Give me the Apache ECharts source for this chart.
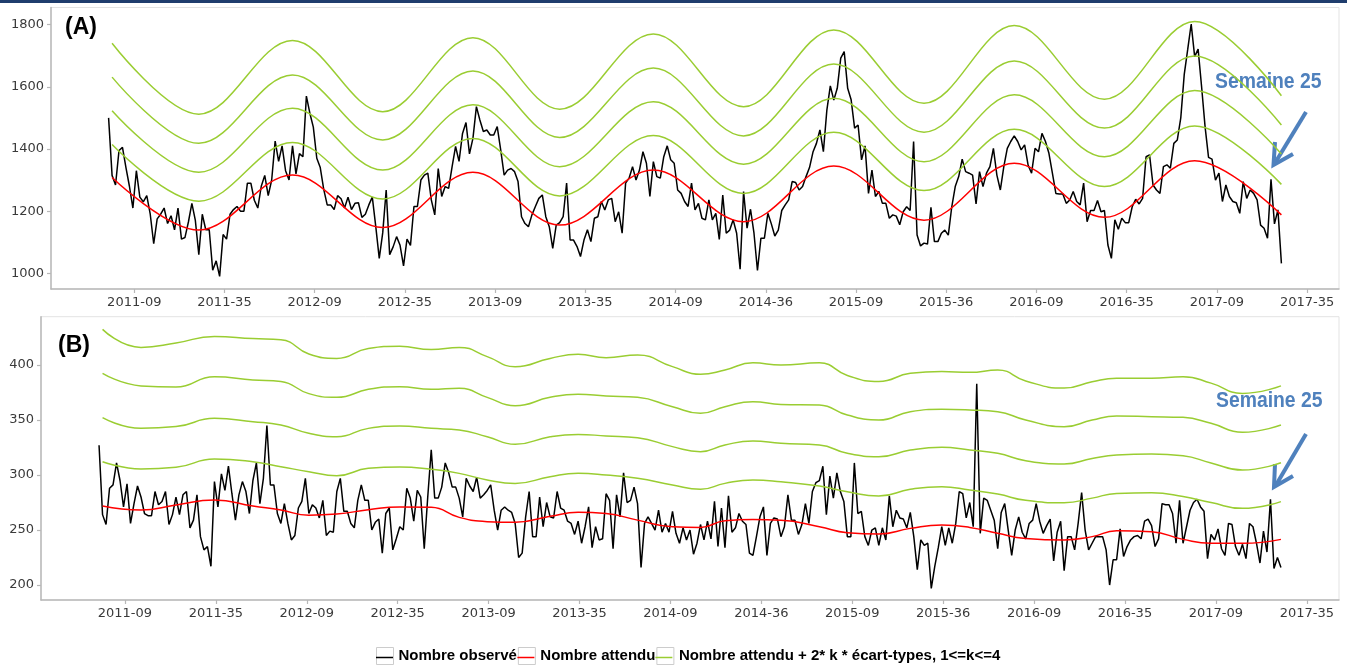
<!DOCTYPE html>
<html>
<head>
<meta charset="utf-8">
<script src="https://cdn.jsdelivr.net/npm/echarts@6/dist/echarts.min.js"></script>
<style>
  html, body { margin: 0; padding: 0; background: #fff; }
  #chart { width: 1347px; height: 672px; }
</style>
</head>
<body>
<div id="chart"></div>
<script>
// x tick labels (ISO year-week), one every 26 weeks
var tickLabels = ['2011-09', '2011-35', '2012-09', '2012-35', '2013-09', '2013-35', '2014-09',
  '2014-36', '2015-09', '2015-36', '2016-09', '2016-35', '2017-09', '2017-35'];

// (A) weekly observed counts, week 0 = first week shown
var obsA = [
  1500, 1315, 1284, 1395, 1405, 1340, 1280, 1210, 1330, 1245,
  1230, 1250, 1190, 1095, 1175, 1190, 1210, 1160, 1185, 1140,
  1210, 1110, 1115, 1165, 1225, 1170, 1060, 1190, 1140, 1140,
  1010, 1040, 990, 1125, 1110, 1190, 1205, 1215, 1200, 1200,
  1290, 1290, 1235, 1210, 1280, 1315, 1250, 1300, 1425, 1360,
  1410, 1330, 1300, 1410, 1320, 1385, 1375, 1570, 1515, 1470,
  1370, 1340, 1270, 1220, 1220, 1205, 1250, 1240, 1210, 1245,
  1205, 1225, 1227, 1180, 1190, 1220, 1245, 1150, 1048, 1130,
  1268, 1060, 1085, 1118, 1090, 1024, 1110, 1090, 1215, 1215,
  1300, 1316, 1322, 1236, 1188, 1337, 1247, 1279, 1273, 1343,
  1408, 1360, 1450, 1485, 1384, 1434, 1536, 1493, 1456, 1461,
  1445, 1445, 1472, 1397, 1316, 1332, 1337, 1327, 1295, 1182,
  1160, 1150, 1188, 1215, 1241, 1252, 1182, 1150, 1080, 1155,
  1163, 1182, 1290, 1107, 1107, 1086, 1054, 1107, 1140, 1102,
  1177, 1182, 1231, 1204, 1236, 1241, 1166, 1198, 1129, 1290,
  1306, 1343, 1300, 1332, 1391, 1354, 1247, 1359, 1311, 1306,
  1375, 1410, 1365, 1354, 1268, 1257, 1231, 1215, 1290, 1204,
  1225, 1177, 1172, 1236, 1172, 1193, 1109, 1252, 1129, 1139,
  1172, 1129, 1013, 1263, 1145, 1206, 1129, 1009, 1113, 1113,
  1193, 1159, 1120, 1139, 1202, 1220, 1236, 1295, 1292, 1268,
  1279, 1311, 1340, 1390, 1418, 1461, 1391, 1525, 1603, 1557,
  1595, 1692, 1713, 1595, 1558, 1467, 1477, 1365, 1410, 1257,
  1332, 1247, 1263, 1225, 1225, 1177, 1188, 1184, 1156, 1198,
  1214, 1202, 1424, 1123, 1088, 1097, 1094, 1212, 1102, 1102,
  1129, 1139, 1123, 1214, 1279, 1311, 1367, 1327, 1322, 1316,
  1223, 1327, 1279, 1322, 1343, 1402, 1316, 1268, 1343, 1402,
  1424, 1442, 1424, 1397, 1413, 1348, 1322, 1402, 1391, 1450,
  1424, 1386, 1322, 1257, 1255, 1255, 1225, 1236, 1263, 1231,
  1220, 1290, 1166, 1202, 1202, 1234, 1198, 1202, 1091, 1048,
  1172, 1142, 1177, 1163, 1163, 1214, 1238, 1223, 1241, 1375,
  1381, 1284, 1268, 1257, 1343, 1349, 1338, 1418, 1429, 1500,
  1640, 1720, 1802, 1697, 1721, 1600, 1472, 1373, 1367, 1300,
  1322, 1231, 1284, 1247, 1231, 1227, 1193, 1295, 1241, 1268,
  1257, 1236, 1155, 1145, 1113, 1302, 1159, 1204, 1032
];

// (A) expected and bands, read at the seasonal peaks and troughs
var weeksA = [1, 26, 53, 79, 105, 130, 157, 183, 209, 235, 261, 287, 313, 338];
var expA = [1308, 1139, 1316, 1147, 1325, 1155, 1332, 1166, 1345, 1171, 1354, 1180, 1362, 1188];
var bandA1 = [1414, 1232, 1421, 1239, 1434, 1249, 1443, 1257, 1454, 1266, 1463, 1279, 1474, 1286];
var bandA2 = [1523, 1325, 1531, 1332, 1542, 1343, 1552, 1351, 1563, 1359, 1574, 1375, 1588, 1384];
var bandA3 = [1631, 1418, 1638, 1429, 1651, 1437, 1660, 1442, 1673, 1454, 1683, 1467, 1699, 1477];
var bandA4 = [1740, 1512, 1749, 1520, 1758, 1528, 1770, 1536, 1783, 1547, 1797, 1560, 1810, 1571];

// (B) weekly observed counts
var obsB = [
  327, 264, 255, 288, 291, 311, 295, 271, 292, 256,
  274, 290, 280, 265, 263, 263, 285, 273, 276, 285,
  255, 264, 280, 264, 282, 285, 252, 259, 282, 244,
  232, 235, 217, 294, 271, 301, 286, 308, 283, 259,
  282, 294, 285, 265, 295, 311, 274, 297, 345, 291,
  291, 265, 256, 274, 256, 241, 245, 270, 276, 297,
  265, 273, 270, 261, 277, 245, 249, 248, 285, 297,
  267, 267, 256, 252, 277, 291, 277, 277, 250, 257,
  260, 229, 265, 270, 232, 242, 253, 250, 288, 279,
  258, 286, 280, 233, 280, 323, 279, 279, 289, 311,
  302, 289, 289, 279, 262, 297, 290, 285, 298, 279,
  282, 286, 291, 268, 250, 268, 271, 268, 266, 256,
  225, 229, 262, 285, 244, 244, 280, 253, 275, 262,
  261, 285, 270, 268, 258, 256, 246, 258, 238, 253,
  271, 234, 253, 241, 242, 283, 277, 233, 282, 262,
  302, 275, 277, 289, 274, 216, 256, 262, 256, 250,
  268, 248, 256, 248, 267, 247, 238, 252, 241, 250,
  228, 238, 255, 241, 258, 242, 276, 235, 270, 234,
  281, 248, 252, 265, 258, 255, 229, 227, 244, 262,
  271, 227, 256, 261, 260, 244, 253, 282, 259, 259,
  246, 255, 274, 256, 285, 293, 295, 308, 264, 299,
  279, 302, 285, 276, 244, 244, 311, 265, 267, 244,
  236, 250, 252, 236, 252, 241, 281, 253, 268, 261,
  260, 252, 266, 244, 214, 241, 236, 238, 197, 217,
  234, 253, 236, 252, 238, 256, 285, 283, 261, 275,
  253, 383, 247, 279, 277, 268, 259, 233, 266, 274,
  250, 227, 250, 262, 248, 242, 256, 259, 274, 258,
  247, 254, 260, 222, 248, 258, 213, 244, 244, 232,
  256, 284, 250, 232, 238, 244, 244, 244, 232, 200,
  223, 223, 251, 226, 235, 241, 244, 245, 242, 258,
  260, 254, 235, 242, 274, 273, 273, 265, 238, 277,
  238, 253, 268, 275, 278, 271, 267, 224, 246, 241,
  251, 233, 227, 256, 255, 235, 227, 237, 224, 256,
  253, 238, 220, 249, 230, 278, 215, 225, 216
];

// (B) expected and bands, read at these weeks
var weeksB = [1, 12, 22, 33, 44, 52, 60, 68, 77, 86, 95, 103, 111, 119, 129, 137, 145, 154, 164,
  172, 179, 187, 195, 206, 214, 223, 232, 241, 249, 257, 265, 276, 284, 291, 301, 310, 318, 327, 338];
var expB = [271.8, 268.2, 272.7, 277.3, 271.8, 268.2, 263.5, 264.5, 268.5, 271, 270.6, 261.5,
  257.6, 257, 262.5, 266.1, 265, 259, 253, 252.4, 258.5, 259.5, 259, 253, 247.6, 246.4, 251.5,
  254.5, 252.4, 247, 242.4, 241, 244, 249.4, 248.5, 241.5, 237.9, 237.9, 241.5];
var bandB1 = [312.1, 305.5, 307, 314.5, 312.1, 307.6, 303, 299.4, 306.1, 307.3, 305.2, 301.5,
  295.5, 292.4, 298.5, 301.5, 300, 297, 290.9, 287, 292.4, 295.5, 293.9, 290, 284.8, 280.9, 287,
  289.4, 286.4, 282.7, 277, 274.8, 279, 283.3, 283.9, 280.5, 275, 269.7, 275.8];
var bandB2 = [352.1, 342.5, 344, 351.5, 348.5, 345.5, 337.9, 334.8, 342.4, 344.5, 342.4, 340.9,
  334.8, 327.9, 334.8, 336.9, 335.5, 333.9, 325.8, 321.2, 327.3, 330.9, 328.8, 327.3, 319.7,
  316.7, 322.7, 325.2, 322.7, 319.7, 313, 310, 315, 318.2, 319.1, 317.5, 311, 304.5, 311.2];
var bandB3 = [392.4, 381, 380, 389.4, 386.4, 385, 374, 370.6, 377.9, 380.3, 377.9, 378.8,
  370.6, 363, 370.6, 373.3, 371.8, 370.6, 362.1, 356.1, 362.1, 366.7, 364.2, 363.6, 354.5, 350,
  357.6, 359.7, 359.1, 357.6, 350, 343.9, 350, 353.6, 353, 352.4, 347, 338.8, 345.5];
var bandB4 = [432.4, 416, 420, 426, 424, 423, 410, 406, 415, 417, 414, 416, 407.6, 398.5, 406,
  409.7, 406.7, 409, 398.5, 391.5, 395.5, 402, 400, 402, 390.5, 385, 392.4, 394, 393.3, 395.5,
  385.5, 379, 384.8, 388, 388, 389.4, 383.5, 374.2, 381];

var NAME_OBS = 'Nombre observé';
var NAME_EXP = 'Nombre attendu';
var NAME_BAND = 'Nombre attendu + 2* k * écart-types, 1<=k<=4';

var tickPos = tickLabels.map(function (l, k) { return 7.4 + 26 * k; });

function weekly(arr) {
  return arr.map(function (v, i) { return [i, v]; });
}
function knots(weeks, arr) {
  return arr.map(function (v, i) { return [weeks[i], v]; });
}

var axisGrey = '#b8b8b8';
var labelStyle = { color: '#3a3a3a', fontSize: 13, fontFamily: 'DejaVu Sans' };

function xAxisFor(g) {
  return {
    type: 'value', gridIndex: g, min: -16.6, max: 354.6,
    splitLine: { show: false },
    axisLine: { show: true, onZero: false, lineStyle: { color: axisGrey, width: 1.5 } },
    axisTick: { show: true, length: 4, customValues: tickPos, lineStyle: { color: axisGrey, width: 1.2 } },
    axisLabel: Object.assign({
      customValues: tickPos, margin: 7,
      formatter: function (v) { return tickLabels[Math.round((v - 7.4) / 26)]; }
    }, labelStyle)
  };
}
function yAxisFor(g, min, max, ticks) {
  return {
    type: 'value', gridIndex: g, min: min, max: max,
    splitLine: { show: false },
    axisLine: { show: true, onZero: false, lineStyle: { color: axisGrey, width: 1.5 } },
    axisTick: { show: true, length: 4, customValues: ticks, lineStyle: { color: axisGrey, width: 1.2 } },
    axisLabel: Object.assign({
      customValues: ticks, margin: 7,
      formatter: function (v) { return String(v); }
    }, labelStyle)
  };
}

// monotone: horizontal tangents at every knot (knots sit on peaks and troughs)
function lineSeries(name, g, data, color, width, smooth, monotone) {
  var s = {
    name: name, type: 'line', xAxisIndex: g, yAxisIndex: g, data: data,
    showSymbol: false, symbol: 'none', smooth: smooth || false,
    lineStyle: { color: color, width: width }, itemStyle: { color: color },
    emphasis: { disabled: true }
  };
  if (monotone) s.smoothMonotone = 'x';
  return s;
}

var green = '#9acd32';
var series = [];
[[0, obsA, weeksA, expA, [bandA1, bandA2, bandA3, bandA4], 0.36, true],
 [1, obsB, weeksB, expB, [bandB1, bandB2, bandB3, bandB4], 0.5, false]].forEach(function (p) {
  var g = p[0];
  series.push(lineSeries(NAME_OBS, g, weekly(p[1]), '#000000', 1.5, false, false));
  series.push(lineSeries(NAME_EXP, g, knots(p[2], p[3]), '#ff0000', 1.5, p[5], p[6]));
  p[4].forEach(function (b) {
    series.push(lineSeries(NAME_BAND, g, knots(p[2], b), green, 1.5, p[5], p[6]));
  });
});

var legendBase = {
  bottom: 2, left: 371, itemWidth: 17, itemHeight: 17, itemGap: 1,
  data: [NAME_OBS, NAME_EXP, NAME_BAND],
  selectedMode: false
};
var legendText = { fontSize: 15, fontWeight: 'bold', fontFamily: 'Liberation Sans' };

var blue = '#4f81bd';
var chart = echarts.init(document.getElementById('chart'));
chart.setOption({
  animation: false,
  backgroundColor: '#ffffff',
  grid: [
    { left: 51, top: 7.5, width: 1288, height: 281.5, show: true, borderColor: '#e3e3e3', borderWidth: 1 },
    { left: 41, top: 316.7, width: 1298, height: 283.3, show: true, borderColor: '#e3e3e3', borderWidth: 1 }
  ],
  xAxis: [xAxisFor(0), xAxisFor(1)],
  yAxis: [
    yAxisFor(0, 949.5, 1855, [1000, 1200, 1400, 1600, 1800]),
    yAxisFor(1, 186.4, 443.9, [200, 250, 300, 350, 400])
  ],
  legend: [
    Object.assign({}, legendBase, {
      icon: 'rect',
      itemStyle: { color: '#ffffff', borderColor: '#cccccc', borderWidth: 1 },
      textStyle: Object.assign({ color: '#000' }, legendText)
    }),
    Object.assign({}, legendBase, {
      icon: 'path://M0,0 L17,0 L17,1.5 L0,1.5 Z',
      itemStyle: { borderWidth: 0 },
      textStyle: Object.assign({ color: 'rgba(0,0,0,0)' }, legendText)
    })
  ],
  graphic: {
    elements: [
      { type: 'rect', shape: { x: 0, y: 0, width: 1347, height: 3 }, style: { fill: '#1f3d6d' } },
      { type: 'text', x: 65, y: 28, style: { text: '(A)', font: 'bold 23px "Liberation Sans"', fill: '#000', textVerticalAlign: 'middle' } },
      { type: 'text', x: 58, y: 346, style: { text: '(B)', font: 'bold 23px "Liberation Sans"', fill: '#000', textVerticalAlign: 'middle' } },
      { type: 'text', x: 1215, y: 82, scaleX: 0.88, style: { text: 'Semaine 25', font: 'bold 22px "Liberation Sans"', fill: blue, textVerticalAlign: 'middle' } },
      { type: 'text', x: 1216, y: 401, scaleX: 0.88, style: { text: 'Semaine 25', font: 'bold 22px "Liberation Sans"', fill: blue, textVerticalAlign: 'middle' } },
      { type: 'line', shape: { x1: 1306, y1: 112, x2: 1275, y2: 163 }, style: { stroke: blue, lineWidth: 4 } },
      { type: 'polyline', shape: { points: [[1275, 142], [1273.5, 165], [1293, 154]] }, style: { stroke: blue, lineWidth: 4, fill: null } },
      { type: 'line', shape: { x1: 1306, y1: 434, x2: 1276, y2: 485 }, style: { stroke: blue, lineWidth: 4 } },
      { type: 'polyline', shape: { points: [[1275, 464], [1274, 487], [1293, 476]] }, style: { stroke: blue, lineWidth: 4, fill: null } }
    ]
  },
  series: series
});
</script>
</body>
</html>
